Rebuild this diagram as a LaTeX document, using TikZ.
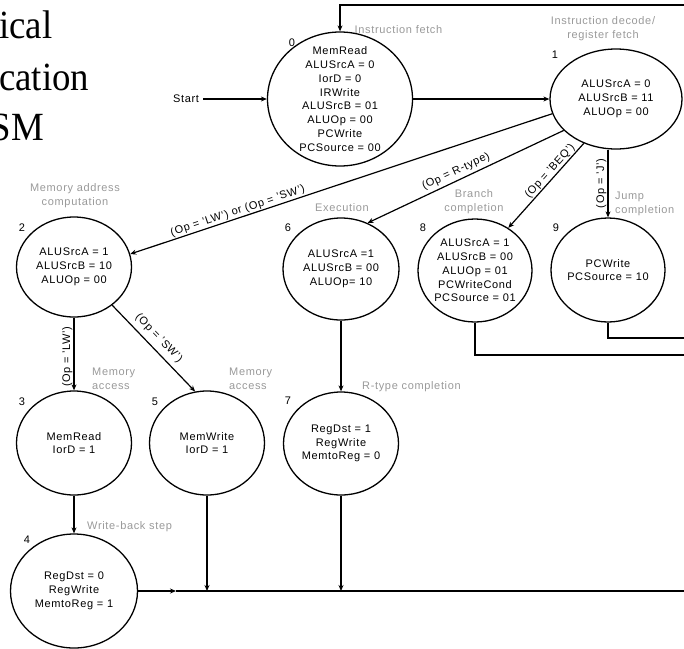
\documentclass[tikz,border=0pt]{standalone}
\usepackage{fontspec}
\setmainfont{Liberation Sans}[LetterSpace=6]
\newfontfamily\titlefont{Liberation Serif}
\usetikzlibrary{shapes,arrows.meta,positioning}

\begin{document}
\begin{tikzpicture}[x=1pt, y=-1pt,
        state/.style={ellipse, draw, line width=1.3pt, inner xsep=-4pt, inner ysep=-4pt, align=center, font=\fontsize{11}{13.8}\selectfont},
        num/.style={inner sep=0pt, font=\fontsize{11}{13}\selectfont},
        note/.style={inner sep=0pt, text=black!40, font=\fontsize{11}{14}\selectfont},
        heading/.style={inner sep=0pt, xscale=0.92, font=\titlefont\fontsize{40}{48}\selectfont},
        arrow/.style={->, >={Stealth[length=6pt, width=5pt]}, line width=1.2pt},
        wire/.style={line width=1.2pt},
        cond/.style={inner sep=1pt, font=\fontsize{11}{13}\selectfont}
    ]
        \useasboundingbox (0,0) rectangle (684,648);

        % Title (cut at the left edge)
        \node[heading, anchor=base west] (tl1) at (-1,38) {ical};
        \node[heading, anchor=base west] (tl2) at (-1,90) {cation};
        \node[heading, anchor=base east] (tl3) at (44,140) {SM};

        % States
        \node[state, minimum width=145pt, minimum height=134pt, inner ysep=-8pt] (s0) at (340,99) {MemRead\\ALUSrcA = 0\\IorD = 0\\IRWrite\\ALUSrcB = 01\\ALUOp = 00\\PCWrite\\PCSource = 00};
        \node[state, minimum width=132pt, minimum height=100pt] (s1) at (616,99) {ALUSrcA = 0\\ALUSrcB = 11\\ALUOp = 00};
        \node[state, minimum width=115pt, minimum height=100pt] (s2) at (74,267) {ALUSrcA = 1\\ALUSrcB = 10\\ALUOp = 00};
        \node[state, minimum width=116pt, minimum height=102pt] (s6) at (341,269) {ALUSrcA =1\\ALUSrcB = 00\\ALUOp= 10};
        \node[state, minimum width=114pt, minimum height=103pt] (s8) at (475,270.5) {ALUSrcA = 1\\ALUSrcB = 00\\ALUOp = 01\\PCWriteCond\\PCSource = 01};
        \node[state, minimum width=114pt, minimum height=104pt] (s9) at (608,270) {PCWrite\\PCSource = 10};
        \node[state, minimum width=115pt, minimum height=104pt] (s3) at (74,443) {MemRead\\IorD = 1};
        \node[state, minimum width=115pt, minimum height=104pt] (s5) at (207,443) {MemWrite\\IorD = 1};
        \node[state, minimum width=115pt, minimum height=103pt] (s7) at (341,443.5) {RegDst = 1\\RegWrite\\MemtoReg = 0};
        \node[state, minimum width=127pt, minimum height=114pt] (s4) at (74,591) {RegDst = 0\\RegWrite\\MemtoReg = 1};

        % State numbers
        \node[num] (n0) at (292,43) {0};
        \node[num] (n1) at (555,55) {1};
        \node[num] (n2) at (22,228) {2};
        \node[num] (n6) at (288,228) {6};
        \node[num] (n8) at (423,228) {8};
        \node[num] (n9) at (556,228) {9};
        \node[num] (n3) at (22,402) {3};
        \node[num] (n5) at (155,402) {5};
        \node[num] (n7) at (288,401) {7};
        \node[num] (n4) at (27,540) {4};

        % Step names
        \node[note] (fetch) at (398.5,30) {Instruction fetch};
        \node[note, align=center] (decode) at (603,28.5) {Instruction decode/\\register fetch};
        \node[note, align=center] (memaddr) at (75,196) {Memory address\\computation};
        \node[note] (exec) at (342,208) {Execution};
        \node[note, align=center] (branch) at (474,201.5) {Branch\\completion};
        \node[note, align=left, anchor=west] (jump) at (615,204) {Jump\\completion};
        \node[note, align=left, anchor=west] (memrd) at (92,378.5) {Memory\\access};
        \node[note, align=left, anchor=west] (memwr) at (229,378.5) {Memory\\access};
        \node[note, anchor=west] (rdone) at (362,387) {R-type completion};
        \node[note, anchor=west] (wback) at (87,527) {Write-back step};

        % Start
        \node[num, inner xsep=4pt] (start) at (186,99) {Start};

        % Free ends at the right edge
        \coordinate (outT) at (684,5);
        \coordinate (out8) at (684,355);
        \coordinate (out9) at (684,338);
        \coordinate (outB) at (684,591);
        \coordinate (j4) at (176,591);
        \coordinate (j5) at (s5 |- j4);
        \coordinate (j7) at (s7 |- j4);

        % Connections
        \draw[arrow] (start) -- (s0);
        \draw[arrow] (s0) -- (s1);
        \draw[arrow] (outT) -| (s0.north);
        \draw[arrow] (s1.193) -- node[cond, sloped, above, pos=.74] {(Op = 'LW') or (Op = 'SW')} (s2.13);
        \draw[arrow] (s1.211) -- node[cond, sloped, above=2pt, pos=.53] {(Op = R-type)} (s6.60);
        \draw[arrow] (s1.234) -- node[cond, sloped, above, pos=.38] {(Op = 'BEQ')} (s8.52);
        \draw[arrow] (s1.south -| s9.north) -- node[cond, rotate=90, above, pos=.5] {(Op = 'J')} (s9.north);
        \draw[arrow] (s2) -- node[cond, rotate=90, above=1pt, pos=.55] {(Op = 'LW')} (s3);
        \draw[arrow] (s2.-45) -- node[cond, sloped, above=4pt, pos=.47] {(Op = 'SW')} (s5.103);
        \draw[arrow] (s3) -- (s4);
        \draw[arrow] (s6) -- (s7);
        \draw[arrow] (s4) -- (j4);
        \draw[wire] (j4) -- (outB);
        \draw[arrow] (s5) -- (j5);
        \draw[arrow] (s7) -- (j7);
        \draw[wire] (s8) |- (out8);
        \draw[wire] (s9) |- (out9);

    \end{tikzpicture}
\end{document}
